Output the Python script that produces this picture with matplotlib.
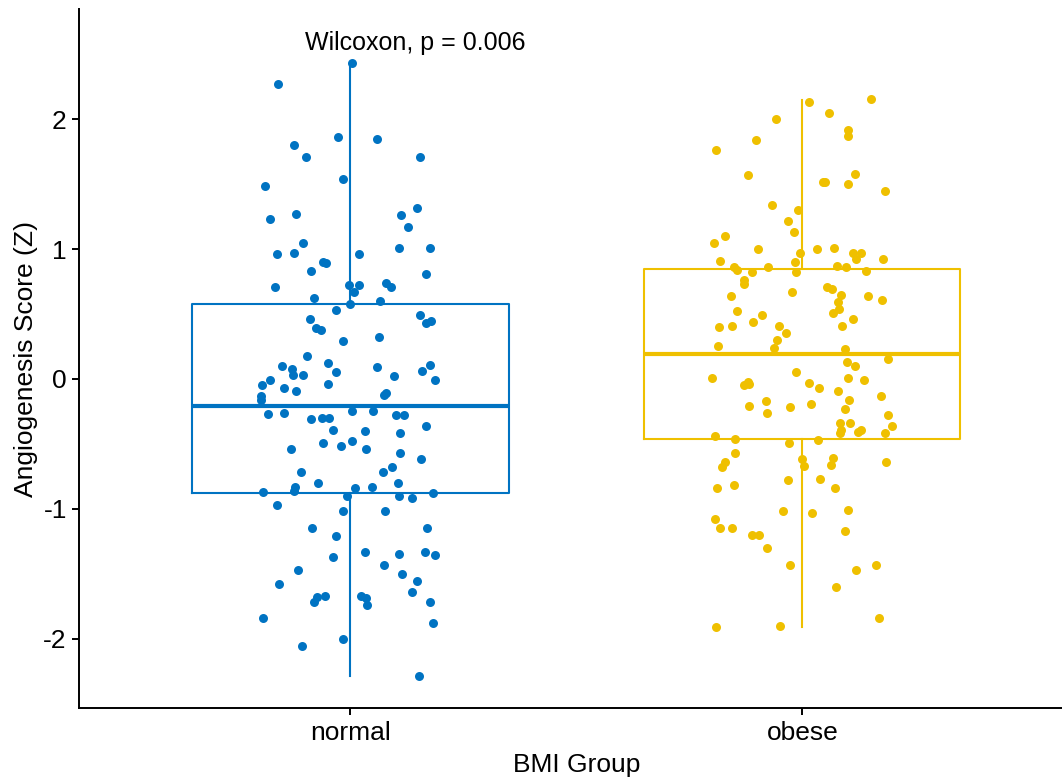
import matplotlib
matplotlib.use("Agg")
import matplotlib.pyplot as plt

plt.rcParams['font.family'] = ['Liberation Sans', 'DejaVu Sans']
plt.rcParams['axes.unicode_minus'] = False

groups = ["normal", "obese"]
colors = ["#0073C2", "#EFC000"]

# angiogenesis z-scores per BMI group
normal_score = [2.43, 2.27, 1.86, 1.85, 1.80, 1.71, 1.71, 1.54, 1.49, 1.32,
                1.23, 1.27, 1.26, 1.17, 1.05, 0.96, 0.97, 1.01, 1.01, 0.96,
                0.90, 0.89, 0.83, 0.81, 0.71, 0.72, 0.67, 0.72, 0.74, 0.71,
                0.62, 0.58, 0.60, 0.53, 0.46, 0.39, 0.38, 0.49, 0.43, 0.45,
                0.32, 0.29, 0.18, 0.10, 0.08, 0.03, 0.03, 0.12, 0.05, 0.09,
                0.02, 0.11, 0.06, -0.01, -0.01, -0.05, -0.07, -0.09, -0.04, -0.13,
                -0.16, -0.11, -0.12, -0.27, -0.26, -0.25, -0.25, -0.28, -0.28, -0.31,
                -0.30, -0.30, -0.39, -0.40, -0.42, -0.36, -0.54, -0.49, -0.52, -0.48,
                -0.54, -0.57, -0.62, -0.72, -0.68, -0.72, -0.80, -0.80, -0.87, -0.83,
                -0.86, -0.90, -0.84, -0.83, -0.90, -0.92, -0.88, -0.97, -1.02, -1.02,
                -1.15, -1.21, -1.15, -1.33, -1.37, -1.35, -1.33, -1.36, -1.43, -1.47,
                -1.50, -1.58, -1.56, -1.64, -1.68, -1.72, -1.67, -1.67, -1.69, -1.74,
                -1.72, -1.84, -1.88, -2.00, -2.06, -2.29]
normal_jitter = [0.003, -0.160, -0.027, 0.058, -0.126, -0.099, 0.153, -0.017, -0.190, 0.147,
                 -0.177, -0.121, 0.111, 0.128, -0.106, -0.163, -0.126, 0.108, 0.175, 0.018,
                 -0.060, -0.053, -0.088, 0.168, -0.168, -0.004, 0.007, 0.018, 0.078, 0.089,
                 -0.080, -0.002, 0.065, -0.031, -0.090, -0.077, -0.066, 0.153, 0.168, 0.179,
                 0.064, -0.016, -0.097, -0.151, -0.130, -0.128, -0.104, -0.049, -0.033, 0.058,
                 0.097, 0.177, 0.159, 0.188, -0.179, -0.196, -0.146, -0.120, -0.050, -0.197,
                 -0.197, 0.079, 0.075, -0.182, -0.148, 0.004, 0.049, 0.101, 0.118, -0.088,
                 -0.062, -0.048, -0.039, 0.033, 0.109, 0.167, -0.131, -0.060, -0.021, 0.003,
                 0.034, 0.110, 0.157, -0.110, 0.092, 0.071, -0.072, 0.105, -0.194, -0.123,
                 -0.125, -0.007, 0.010, 0.047, 0.107, 0.136, 0.182, -0.162, -0.016, 0.076,
                 -0.084, -0.031, 0.169, 0.033, -0.039, 0.107, 0.165, 0.187, 0.075, -0.117,
                 0.115, -0.157, 0.148, 0.136, -0.075, -0.080, -0.056, 0.024, 0.035, 0.036,
                 0.176, -0.194, 0.183, -0.016, -0.107, 0.151]

obese_score = [2.13, 2.16, 2.05, 2.00, 1.92, 1.87, 1.84, 1.76, 1.57, 1.52,
               1.52, 1.58, 1.50, 1.45, 1.34, 1.30, 1.22, 1.13, 1.10, 1.05,
               1.00, 0.97, 1.00, 1.01, 0.97, 0.97, 0.92, 0.92, 0.91, 0.90,
               0.86, 0.84, 0.86, 0.87, 0.86, 0.82, 0.82, 0.83, 0.76, 0.73,
               0.64, 0.67, 0.71, 0.69, 0.65, 0.64, 0.61, 0.59, 0.54, 0.51,
               0.52, 0.49, 0.44, 0.46, 0.40, 0.41, 0.41, 0.35, 0.41, 0.30,
               0.25, 0.24, 0.23, 0.15, 0.13, 0.10, 0.01, 0.05, 0.01, -0.01,
               -0.05, -0.04, -0.02, -0.03, -0.07, -0.09, -0.13, -0.16, -0.17, -0.21,
               -0.26, -0.22, -0.19, -0.23, -0.28, -0.36, -0.34, -0.34, -0.39, -0.42,
               -0.41, -0.39, -0.42, -0.44, -0.46, -0.49, -0.47, -0.57, -0.64, -0.68,
               -0.62, -0.67, -0.61, -0.66, -0.64, -0.78, -0.77, -0.84, -0.82, -0.84,
               -1.02, -1.03, -1.01, -1.08, -1.15, -1.15, -1.17, -1.20, -1.20, -1.30,
               -1.43, -1.43, -1.47, -1.60, -1.84, -1.91, -1.90]
obese_jitter = [0.016, 0.152, 0.059, -0.059, 0.101, 0.102, -0.103, -0.192, -0.121, 0.046,
                0.051, 0.116, 0.102, 0.184, -0.068, -0.009, -0.031, -0.019, -0.172, -0.195,
                -0.097, -0.004, 0.032, 0.070, 0.112, 0.129, 0.118, 0.178, -0.181, -0.015,
                -0.151, -0.144, -0.076, 0.077, 0.096, -0.111, -0.014, 0.141, -0.130, -0.130,
                -0.158, -0.022, 0.055, 0.065, 0.086, 0.145, 0.176, 0.078, 0.081, 0.069,
                -0.144, -0.090, -0.109, 0.112, -0.184, -0.155, -0.052, -0.036, 0.087, -0.057,
                -0.186, -0.062, 0.094, 0.189, 0.099, 0.116, -0.200, -0.013, 0.102, 0.137,
                -0.130, -0.118, -0.121, 0.014, 0.036, 0.078, 0.174, 0.104, -0.081, -0.117,
                -0.077, -0.028, 0.020, 0.095, 0.189, 0.198, 0.084, 0.105, 0.085, 0.083,
                0.124, 0.129, 0.183, -0.194, -0.148, -0.029, 0.034, -0.148, -0.172, -0.178,
                0.000, 0.003, 0.067, 0.064, 0.186, -0.031, 0.039, -0.189, -0.151, 0.073,
                -0.043, 0.022, 0.101, -0.194, -0.183, -0.156, 0.095, -0.111, -0.096, -0.077,
                -0.028, 0.163, 0.119, 0.074, 0.169, -0.192, -0.050]

# box summaries (q1, median, q3, lower / upper whisker ends)
q1 = [-0.88, -0.46]
medians = [-0.21, 0.19]
q3 = [0.58, 0.85]
whisker_lo = [-2.29, -1.91]
whisker_hi = [2.43, 2.15]

p_label = "Wilcoxon, p = 0.006"

fig = plt.figure(figsize=(10.62, 7.79), dpi=100)
ax = fig.add_axes([0.0747, 0.0908, 0.936, 0.8977])

lw = 1.5
for i, c in enumerate(colors):
    stats = [dict(q1=q1[i], med=medians[i], q3=q3[i],
                  whislo=whisker_lo[i], whishi=whisker_hi[i], fliers=[])]
    ax.bxp(stats, positions=[i + 1], widths=0.7, showcaps=False, showfliers=False,
           boxprops=dict(color=c, linewidth=lw),
           whiskerprops=dict(color=c, linewidth=lw),
           medianprops=dict(color=c, linewidth=3.0, solid_capstyle='butt'),
           manage_ticks=False)

for i, (score, jit) in enumerate([(normal_score, normal_jitter), (obese_score, obese_jitter)]):
    xs = [i + 1 + j for j in jit]
    ax.scatter(xs, score, s=42, color=colors[i], linewidths=0, zorder=5)

ax.text(0.9, 2.585, p_label, ha='left', va='center', fontsize=18)

ax.set_xlim(0.4, 2.6)
ax.set_ylim(-2.537, 2.85)
ax.set_xticks([1, 2])
ax.set_xticklabels(groups)
ax.set_yticks([-2, -1, 0, 1, 2])
ax.set_yticklabels(["-2", "-1", "0", "1", "2"])

for side in ["top", "right"]:
    ax.spines[side].set_visible(False)
for side in ["left", "bottom"]:
    ax.spines[side].set_linewidth(1.4)
ax.tick_params(axis='both', length=5, width=1.4, labelsize=19, pad=4, colors='black')

ax.set_xlabel("BMI Group", fontsize=19, labelpad=6)
ax.set_ylabel("Angiogenesis Score (Z)", fontsize=19, labelpad=4)

fig.savefig("out.png", dpi=100)
